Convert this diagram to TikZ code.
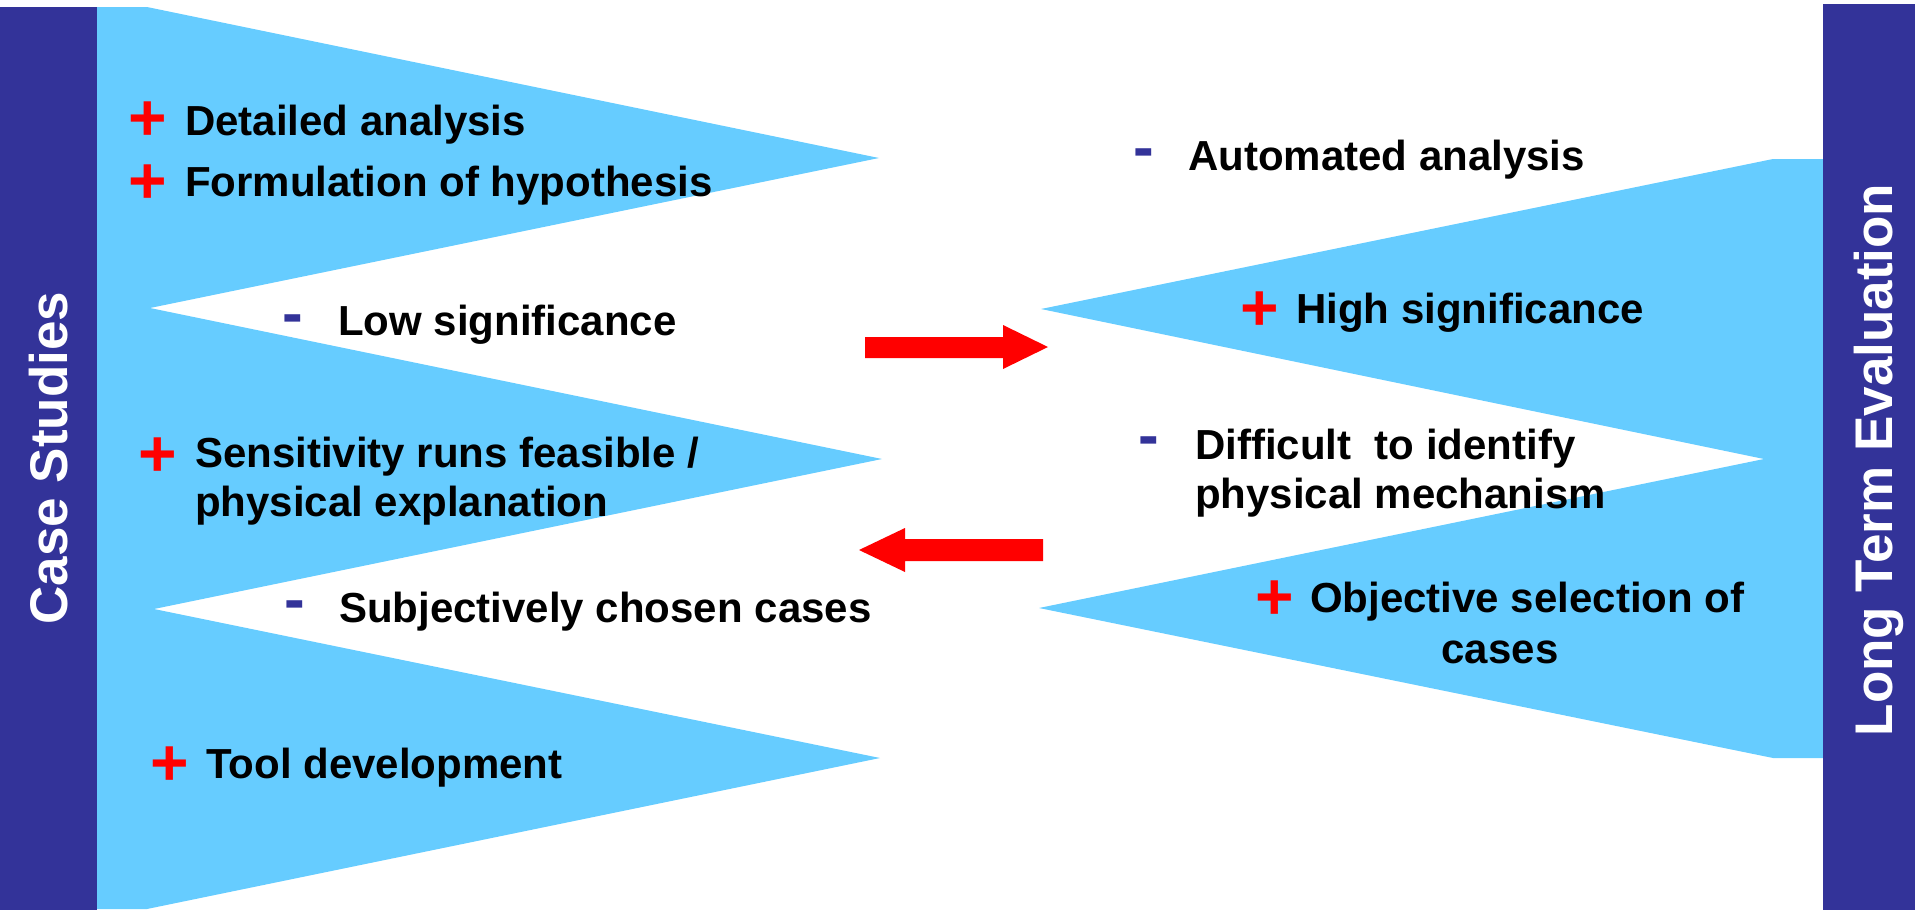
\documentclass[tikz,border=0pt]{standalone}
\usepackage{fontspec}
\setmainfont{Liberation Sans}
\definecolor{barblue}{HTML}{333399}
\definecolor{lightblue}{HTML}{66CCFF}
\definecolor{arrowred}{HTML}{FF0000}
\begin{document}
\begin{tikzpicture}[x=1pt,y=-1pt,
  bar/.style={fill=barblue},
  wedge/.style={fill=lightblue},
  blockarrow/.style={fill=arrowred},
  lbl/.style={font=\fontsize{42}{49}\selectfont\bfseries, inner sep=0, text=black},
  plussign/.style={font=\fontsize{66}{66}\selectfont\bfseries, text=arrowred, inner sep=0, anchor=base},
  minussign/.style={font=\fontsize{62}{62}\selectfont\bfseries, text=barblue, inner sep=0, anchor=base},
  vlabel/.style={font=\fontsize{53}{53}\selectfont\bfseries, text=white, rotate=90, anchor=base, inner sep=0}]
\useasboundingbox (0,0) rectangle (1915,910);
% left wedges
\fill[wedge] (97,7) -- (147,7) -- (879,158) -- (150,308) -- (882,459) -- (154,609) -- (880,758) -- (147,909) -- (97,909) -- cycle;
% right wedges
\fill[wedge] (1823,159) -- (1773,159) -- (1041,309) -- (1764,459) -- (1039,608) -- (1773,758) -- (1823,758) -- cycle;
% bars
\fill[bar] (0,7) rectangle (97,910);
\fill[bar] (1823,4) rectangle (1915,910);
\node[vlabel] (cs) at (67,458) {Case Studies};
\node[vlabel] (lte) at (1892,460) {Long Term Evaluation};
% arrows
\fill[blockarrow] (865,337) -- (1003,337) -- (1003,325) -- (1048,347) -- (1003,369) -- (1003,358) -- (865,358) -- cycle;
\fill[blockarrow] (1043,539) -- (905,539) -- (905,528) -- (859,550) -- (905,572) -- (905,561) -- (1043,561) -- cycle;
% left texts
\node[plussign] (p1) at (148,140) {+};
\node[lbl, anchor=base west] (t1) at (185,135) {Detailed analysis};
\node[plussign] (p2) at (148,203) {+};
\node[lbl, anchor=base west] (t2) at (185,196) {Formulation of hypothesis};
\node[minussign] (m1) at (293,334) {-};
\node[lbl, anchor=base west] (t3) at (338,335) {Low significance};
\node[plussign] (p3) at (158,476) {+};
\node[lbl, anchor=base west, align=left] (t4) at (195,516) {Sensitivity runs feasible /\\physical explanation};
\node[minussign] (m2) at (295,620) {-};
\node[lbl, anchor=base west] (t5) at (339,622) {Subjectively chosen cases};
\node[plussign] (p4) at (170,785) {+};
\node[lbl, anchor=base west] (t6) at (206,778) {Tool development};
% right texts
\node[minussign] (m3) at (1144,168) {-};
\node[lbl, anchor=base west] (t7) at (1188,170) {Automated analysis};
\node[plussign] (p5) at (1260,330) {+};
\node[lbl, anchor=base west] (t8) at (1296,323) {High significance};
\node[minussign] (m4) at (1149,456) {-};
\node[lbl, anchor=base west, align=left] (t9) at (1195,508) {Difficult\ \ to identify\\physical mechanism};
\node[lbl, anchor=base, align=center, font=\fontsize{42}{51}\selectfont\bfseries] (t10) at (1500,663) {\raisebox{-7pt}{\textcolor{arrowred}{\fontsize{66}{66}\selectfont+}}\hspace{16pt}Objective selection of\\cases};
\end{tikzpicture}
\end{document}
